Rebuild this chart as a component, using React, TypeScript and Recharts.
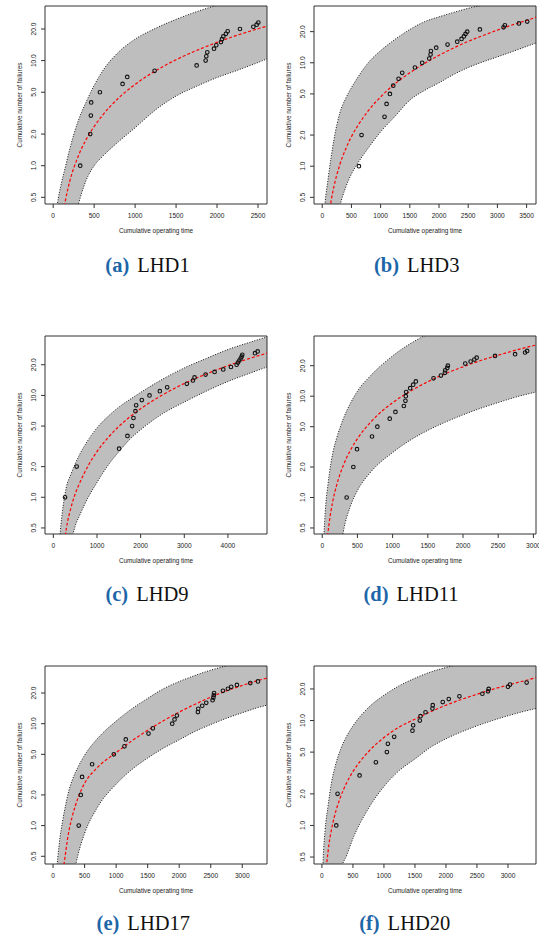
import React from 'react';
import { ComposedChart, Area, Line, Scatter, XAxis, YAxis, ReferenceArea } from 'recharts';

// Failure times are the observed cumulative operating times; the y value of the
// n-th point is its rank (cumulative number of failures).
// Curves: fitted mean (red dashed) and interval bounds (gray band).

// ---- LHD1 ----
const lhd1Time = [20, 50, 100, 150, 200, 300, 400, 500, 600, 800, 1000, 1250, 1500, 1750, 2000, 2250, 2500, 2610];
const lhd1Upper = [0.25, 0.42, 0.68, 0.98, 1.42, 2.6, 4.0, 5.8, 7.9, 12.1, 16.0, 20.3, 24.7, 29.2, 33.7, 38.5, 43, 45];
const lhd1Mean = [0.03, 0.11, 0.28, 0.47, 0.7, 1.2, 1.76, 2.36, 3.0, 4.42, 5.94, 8.0, 10.2, 12.5, 14.9, 17.5, 20.1, 21.3];
const lhd1Lower = [0.01, 0.03, 0.07, 0.13, 0.2, 0.41, 0.72, 1.0, 1.22, 1.7, 2.3, 3.4, 4.6, 5.7, 6.9, 8.1, 9.6, 10.4];
const lhd1Failures = [330, 452, 460, 464, 570, 847, 904, 1238, 1751, 1861, 1869, 1881, 1963, 1991, 2048, 2060, 2077, 2109, 2130, 2280, 2443, 2484, 2504];

// ---- LHD3 ----
const lhd3Time = [20, 50, 100, 150, 200, 300, 400, 500, 600, 800, 1000, 1250, 1500, 1750, 2000, 2250, 2500, 2750, 3000, 3250, 3500, 3661];
const lhd3Upper = [0.28, 0.45, 0.75, 1.2, 1.8, 3.25, 4.5, 5.75, 7.1, 10.2, 13.1, 16.9, 21, 24.9, 27.8, 30.7, 33.6, 36.2, 39, 41.5, 44, 45.5];
const lhd3Mean = [0.053, 0.135, 0.287, 0.454, 0.634, 1.03, 1.46, 1.93, 2.42, 3.5, 4.68, 6.28, 8.01, 9.86, 11.8, 13.9, 16.1, 18.3, 20.7, 23.2, 25.7, 27.5];
const lhd3Lower = [0.01, 0.03, 0.06, 0.1, 0.17, 0.4, 0.62, 0.84, 1.05, 1.53, 2.15, 3.05, 4.35, 5.4, 6.4, 7.7, 9.0, 10.2, 11.4, 12.8, 14.4, 15.5];
const lhd3Failures = [628, 673, 1067, 1102, 1159, 1216, 1307, 1370, 1587, 1712, 1832, 1855, 1861, 1952, 2146, 2312, 2386, 2426, 2454, 2483, 2700, 3105, 3128, 3368, 3510];

// ---- LHD9 ----
const lhd9Time = [50, 100, 150, 200, 250, 300, 400, 500, 600, 800, 1000, 1250, 1500, 1750, 2000, 2500, 3000, 3500, 4000, 4500, 4895];
const lhd9Upper = [0.1, 0.24, 0.42, 0.68, 0.97, 1.27, 1.67, 2.13, 2.62, 3.66, 4.8, 6.2, 7.67, 9.1, 10.7, 14.4, 18.6, 23, 28.2, 33.2, 37.5];
const lhd9Mean = [0.02, 0.06, 0.13, 0.22, 0.35, 0.5, 0.78, 1.08, 1.37, 2.05, 2.81, 3.84, 4.95, 6.15, 7.4, 10.1, 13.1, 16.2, 19.6, 23.1, 26];
const lhd9Lower = [0.005, 0.01, 0.02, 0.03, 0.06, 0.12, 0.33, 0.52, 0.66, 1.0, 1.4, 2.05, 2.8, 3.7, 4.6, 6.6, 8.6, 11, 13.7, 16.5, 19];
const lhd9Failures = [268, 535, 1507, 1698, 1805, 1836, 1881, 1897, 2027, 2203, 2440, 2608, 3059, 3197, 3235, 3488, 3694, 3893, 4069, 4199, 4230, 4260, 4291, 4314, 4329, 4620, 4681];

// ---- LHD11 ----
const lhd11Time = [20, 50, 80, 100, 150, 200, 300, 400, 500, 700, 1000, 1250, 1500, 1750, 2000, 2250, 2500, 2750, 3037];
const lhd11Upper = [0.38, 0.85, 1.32, 1.7, 2.75, 3.75, 6.0, 8.5, 11.2, 16.3, 25, 33, 41, 48, 56, 63, 70, 78, 86];
const lhd11Mean = [0.085, 0.25, 0.44, 0.57, 0.92, 1.29, 2.08, 2.92, 3.81, 5.66, 8.63, 11.2, 13.9, 16.7, 19.5, 22.5, 25.4, 28.5, 32];
const lhd11Lower = [0.005, 0.01, 0.02, 0.03, 0.07, 0.14, 0.46, 0.82, 1.17, 1.82, 2.78, 3.68, 4.6, 5.55, 6.55, 7.6, 8.65, 9.8, 11];
const lhd11Failures = [347, 442, 494, 707, 783, 959, 1040, 1159, 1182, 1187, 1192, 1249, 1292, 1330, 1581, 1686, 1743, 1747, 1776, 1785, 2032, 2108, 2161, 2194, 2455, 2740, 2882, 2911];

// ---- LHD17 ----
const lhd17Time = [20, 50, 100, 150, 200, 250, 300, 400, 500, 700, 1000, 1250, 1500, 1750, 2000, 2250, 2500, 2750, 3000, 3250, 3392];
const lhd17Upper = [0.12, 0.3, 0.68, 1.1, 1.6, 2.2, 2.75, 3.8, 4.9, 7.1, 10.6, 14, 17.7, 22.0, 25.9, 29.7, 33.5, 37, 41, 45, 47];
const lhd17Mean = [0.01, 0.04, 0.17, 0.32, 0.55, 0.88, 1.2, 1.9, 2.6, 3.7, 5.2, 6.8, 8.6, 10.7, 13.0, 15.5, 18.2, 21.0, 23.7, 26.5, 28.0];
const lhd17Lower = [0.003, 0.008, 0.02, 0.04, 0.08, 0.15, 0.26, 0.53, 0.84, 1.5, 2.55, 3.55, 4.6, 5.75, 6.95, 8.4, 9.8, 11.3, 12.8, 14.4, 15.2];
const lhd17Failures = [407, 439, 460, 619, 963, 1132, 1153, 1513, 1582, 1889, 1926, 1963, 2296, 2302, 2365, 2429, 2529, 2542, 2548, 2553, 2693, 2772, 2825, 2915, 3127, 3249];

// ---- LHD20 ----
const lhd20Time = [10, 20, 50, 100, 150, 200, 300, 400, 500, 750, 1000, 1250, 1500, 1750, 2000, 2250, 2500, 2750, 3000, 3250, 3452];
const lhd20Upper = [0.33, 0.48, 0.89, 1.55, 2.49, 3.41, 5.3, 7.1, 8.87, 13.3, 17.4, 21.5, 25.3, 29, 32, 35, 38, 41, 44, 47, 49];
const lhd20Mean = [0.04, 0.09, 0.26, 0.57, 0.89, 1.21, 1.87, 2.56, 3.26, 5.05, 6.88, 8.7, 10.3, 12.1, 14.0, 15.9, 17.8, 19.8, 21.8, 23.8, 25.6];
const lhd20Lower = [0.001, 0.002, 0.01, 0.03, 0.06, 0.12, 0.36, 0.52, 0.75, 1.45, 2.35, 3.35, 4.3, 5.55, 6.7, 7.8, 8.9, 10, 11.1, 12.2, 13];
const lhd20Failures = [231, 252, 607, 870, 1047, 1063, 1165, 1460, 1471, 1578, 1589, 1670, 1782, 1787, 1948, 2045, 2217, 2587, 2678, 2689, 3000, 3033, 3301];

const yTicks = [0.5, 1, 2, 5, 10, 20];

const SANS = '"Liberation Sans", Arial, Helvetica, sans-serif';
const SERIF = '"Liberation Serif", "Times New Roman", serif';

type PanelData = {
  time: number[];
  upper: number[];
  mean: number[];
  lower: number[];
  failures: number[];
  xDomain: [number, number];
  yDomain: [number, number];
  xTicks: number[];
};

const panels: { key: string; left: number; top: number; d: PanelData }[] = [
  { key: 'a', left: 0, top: 0, d: { time: lhd1Time, upper: lhd1Upper, mean: lhd1Mean, lower: lhd1Lower, failures: lhd1Failures, xDomain: [-100, 2610], yDomain: [0.432, 33.1], xTicks: [0, 500, 1000, 1500, 2000, 2500] } },
  { key: 'b', left: 269, top: 0, d: { time: lhd3Time, upper: lhd3Upper, mean: lhd3Mean, lower: lhd3Lower, failures: lhd3Failures, xDomain: [-141, 3661], yDomain: [0.431, 35.4], xTicks: [0, 500, 1000, 1500, 2000, 2500, 3000, 3500] } },
  { key: 'c', left: 0, top: 330, d: { time: lhd9Time, upper: lhd9Upper, mean: lhd9Mean, lower: lhd9Lower, failures: lhd9Failures, xDomain: [-191, 4895], yDomain: [0.436, 38.3], xTicks: [0, 1000, 2000, 3000, 4000] } },
  { key: 'd', left: 269, top: 330, d: { time: lhd11Time, upper: lhd11Upper, mean: lhd11Mean, lower: lhd11Lower, failures: lhd11Failures, xDomain: [-117, 3037], yDomain: [0.436, 39.3], xTicks: [0, 500, 1000, 1500, 2000, 2500, 3000] } },
  { key: 'e', left: 0, top: 660, d: { time: lhd17Time, upper: lhd17Upper, mean: lhd17Mean, lower: lhd17Lower, failures: lhd17Failures, xDomain: [-128, 3392], yDomain: [0.42, 36.8], xTicks: [0, 500, 1000, 1500, 2000, 2500, 3000] } },
  { key: 'f', left: 269, top: 660, d: { time: lhd20Time, upper: lhd20Upper, mean: lhd20Mean, lower: lhd20Lower, failures: lhd20Failures, xDomain: [-128, 3452], yDomain: [0.429, 33.1], xTicks: [0, 500, 1000, 1500, 2000, 2500, 3000] } },
];

const captions = [
  { tag: '(a)', name: 'LHD1', x: 147.5, y: 271.7 },
  { tag: '(b)', name: 'LHD3', x: 416.7, y: 271.7 },
  { tag: '(c)', name: 'LHD9', x: 147, y: 601 },
  { tag: '(d)', name: 'LHD11', x: 411, y: 601 },
  { tag: '(e)', name: 'LHD17', x: 143.3, y: 930 },
  { tag: '(f)', name: 'LHD20', x: 404.7, y: 930 },
];

const XTick = (props: any) => {
  const { x, y, payload } = props;
  return (
    <text x={x} y={y + 8} textAnchor="middle" fontSize={6.6} fill="#222" fontFamily={SANS}>
      {payload.value}
    </text>
  );
};

const YTick = (props: any) => {
  const { x, y, payload } = props;
  const bx = x - 3.3;
  return (
    <text x={bx} y={y} transform={`rotate(-90 ${bx} ${y})`} textAnchor="middle" fontSize={6.6} fill="#222" fontFamily={SANS}>
      {Number(payload.value).toFixed(1)}
    </text>
  );
};

const XTitle = (props: any) => {
  const vb = props.viewBox || {};
  return (
    <text x={vb.x + vb.width / 2} y={vb.y + 29} textAnchor="middle" fontSize={6.4} fill="#222" fontFamily={SANS}>
      Cumulative operating time
    </text>
  );
};

const YTitle = (props: any) => {
  const vb = props.viewBox || {};
  const cx = vb.x + 21.5;
  const cy = vb.y + vb.height / 2;
  return (
    <text x={cx} y={cy} transform={`rotate(-90 ${cx} ${cy})`} textAnchor="middle" fontSize={6.4} fill="#222" fontFamily={SANS}>
      Cumulative number of failures
    </text>
  );
};

const OpenCircle = (props: any) => (
  <circle cx={props.cx} cy={props.cy} r={1.8} fill="none" stroke="#111" strokeWidth={1.1} />
);

function FailurePanel({ d }: { d: PanelData }) {
  const rows = d.time.map((t, i) => ({
    t,
    upper: d.upper[i],
    lower: d.lower[i],
    mean: d.mean[i],
    band: [d.lower[i], d.upper[i]],
  }));
  const points = d.failures.map((t, i) => ({ t, n: i + 1 }));

  return (
    <ComposedChart width={270} height={240} data={rows} margin={{ top: 6, right: 3, bottom: 0, left: 0 }}>
      <XAxis
        dataKey="t"
        type="number"
        domain={d.xDomain}
        ticks={d.xTicks}
        allowDataOverflow
        interval={0}
        axisLine={false}
        stroke="#333"
        tickSize={4}
        height={36}
        tick={(p: any) => <XTick {...p} />}
        label={{ content: XTitle }}
      />
      <YAxis
        type="number"
        scale="log"
        domain={d.yDomain}
        ticks={yTicks}
        allowDataOverflow
        interval={0}
        axisLine={false}
        stroke="#333"
        tickSize={4}
        width={45}
        tick={(p: any) => <YTick {...p} />}
        label={{ content: YTitle }}
      />
      <Area type="monotone" dataKey="band" fill="#bebebe" fillOpacity={1} stroke="none" isAnimationActive={false} />
      <Line type="monotone" dataKey="upper" stroke="#111" strokeWidth={1} strokeDasharray="1 1.6" dot={false} isAnimationActive={false} />
      <Line type="monotone" dataKey="lower" stroke="#111" strokeWidth={1} strokeDasharray="1 1.6" dot={false} isAnimationActive={false} />
      <Line type="monotone" dataKey="mean" stroke="#ff0000" strokeWidth={1.2} strokeDasharray="3 2" dot={false} isAnimationActive={false} />
      <Scatter data={points} dataKey="n" shape={OpenCircle} isAnimationActive={false} />
      <ReferenceArea x1={d.xDomain[0]} x2={d.xDomain[1]} y1={d.yDomain[0]} y2={d.yDomain[1]} fill="none" stroke="#333" strokeWidth={1} ifOverflow="visible" />
    </ComposedChart>
  );
}

export default function App() {
  return (
    <div style={{ position: 'absolute', left: 0, top: 0, width: 539, height: 937, background: '#fff', overflow: 'hidden' }}>
      {panels.map((p) => (
        <div key={p.key} style={{ position: 'absolute', left: p.left, top: p.top }}>
          <FailurePanel d={p.d} />
        </div>
      ))}
      <svg width={539} height={937} style={{ position: 'absolute', left: 0, top: 0, pointerEvents: 'none' }}>
        {captions.map((c) => (
          <text key={c.tag} x={c.x} y={c.y} textAnchor="middle" fontFamily={SERIF} fontSize={20.5}>
            <tspan fontWeight="bold" fill="#1d66a8">{c.tag}</tspan>
            <tspan dx={8} fill="#111">{c.name}</tspan>
          </text>
        ))}
      </svg>
    </div>
  );
}
